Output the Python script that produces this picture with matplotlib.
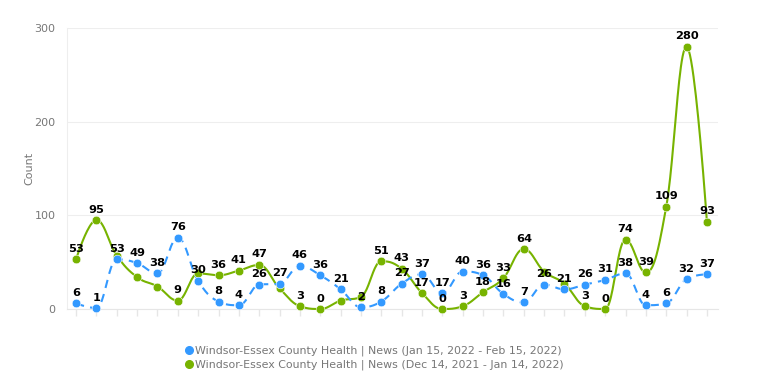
import numpy as np
import matplotlib
matplotlib.use("Agg")
import matplotlib.pyplot as plt
from matplotlib.lines import Line2D
from matplotlib.transforms import Bbox

# ---- data ----
series_names = [
    "Windsor-Essex County Health | News (Jan 15, 2022 - Feb 15, 2022)",
    "Windsor-Essex County Health | News (Dec 14, 2021 - Jan 14, 2022)",
]
blue_values = [6, 1, 53, 49, 38, 76, 30, 8, 4, 26, 27, 46, 36, 21, 2, 8,
               27, 37, 17, 40, 36, 16, 7, 26, 21, 26, 31, 38, 4, 6, 32, 37]
green_values = [53, 95, 57, 34, 24, 9, 38, 36, 41, 47, 22, 3, 0, 9, 13, 51,
                43, 17, 0, 3, 18, 33, 64, 40, 27, 3, 0, 74, 39, 109, 280, 93]
y_ticks = [0, 100, 200, 300]
y_title = "Count"

BLUE = "#3399ff"
GREEN = "#77b300"


def spline_curve(xs, ys, smoothing=1.5, n=24):
    """Highcharts-style spline through points, sampled as polyline."""
    xs = np.asarray(xs, float)
    ys = np.asarray(ys, float)
    m = len(xs)
    lc = [(xs[i], ys[i]) for i in range(m)]
    rc = [(xs[i], ys[i]) for i in range(m)]
    denom = smoothing + 1
    for i in range(1, m - 1):
        px, py = xs[i], ys[i]
        lx, ly = xs[i - 1], ys[i - 1]
        nx, ny = xs[i + 1], ys[i + 1]
        lcx = (smoothing * px + lx) / denom
        lcy = (smoothing * py + ly) / denom
        rcx = (smoothing * px + nx) / denom
        rcy = (smoothing * py + ny) / denom
        corr = 0.0
        if rcx != lcx:
            corr = ((rcy - lcy) * (rcx - px)) / (rcx - lcx) + py - rcy
        lcy += corr
        rcy += corr
        if lcy > ly and lcy > py:
            lcy = max(ly, py)
            rcy = 2 * py - lcy
        elif lcy < ly and lcy < py:
            lcy = min(ly, py)
            rcy = 2 * py - lcy
        if rcy > ny and rcy > py:
            rcy = max(ny, py)
            lcy = 2 * py - rcy
        elif rcy < ny and rcy < py:
            rcy = min(ny, py)
            lcy = 2 * py - rcy
        lc[i] = (lcx, lcy)
        rc[i] = (rcx, rcy)
    t = np.linspace(0, 1, n)[:, None]
    out = []
    for i in range(1, m):
        p0 = np.array([xs[i - 1], ys[i - 1]])
        p1 = np.array(rc[i - 1])
        p2 = np.array(lc[i])
        p3 = np.array([xs[i], ys[i]])
        seg = ((1 - t) ** 3) * p0 + 3 * ((1 - t) ** 2) * t * p1 + \
            3 * (1 - t) * t ** 2 * p2 + t ** 3 * p3
        out.append(seg if i == 1 else seg[1:])
    pts = np.vstack(out)
    return pts[:, 0], pts[:, 1]


W, H = 770, 386
fig = plt.figure(figsize=(W / 100, H / 100), dpi=100)
ax = fig.add_axes([66.5 / W, 1 - 309 / H, (717.5 - 66.5) / W, (309 - 28) / H])

x = np.arange(len(blue_values))

# lines
gx, gy = spline_curve(x, green_values)
ax.plot(gx, gy, color=GREEN, lw=1.5, solid_capstyle="round", zorder=3, clip_on=False)
bx, by = spline_curve(x, blue_values)
ax.plot(bx, by, color=BLUE, lw=1.5, dashes=(4, 3), zorder=4, clip_on=False)

# markers
ax.plot(x, green_values, "o", color=GREEN, ms=6.2, mec="white", mew=0.4, zorder=5, clip_on=False)
ax.plot(x, blue_values, "o", color=BLUE, ms=6.2, mec="white", mew=0.4, zorder=6, clip_on=False)

ax.set_xlim(-0.47, len(x) - 0.48)
ax.set_ylim(0, 300)
ax.set_yticks(y_ticks)
ax.set_xticks(x)
ax.set_xticklabels([])
ax.tick_params(axis="x", length=5, color="#e6e6e6", width=1)
ax.tick_params(axis="y", length=0, pad=8, labelsize=8, labelcolor="#777777")
ax.grid(axis="y", color="#eeeeee", lw=0.8, zorder=0)
ax.set_axisbelow(True)
for s in ["top", "right"]:
    ax.spines[s].set_visible(False)
ax.spines["left"].set_color("#eeeeee")
ax.spines["left"].set_linewidth(0.8)
ax.spines["bottom"].set_color("#e6e6e6")
ax.spines["bottom"].set_linewidth(0.8)
ax.set_ylabel(y_title, fontsize=8, color="#777777")
ax.yaxis.set_label_coords(-(66.5 - 34) / (717.5 - 66.5), 0.5)

# data labels (blue first; later labels hidden if they overlap shown ones)
labels = []
for vals in (blue_values, green_values):
    for xi, v in zip(x, vals):
        t = ax.annotate(str(v), (xi, v), xytext=(0, 7.5), textcoords="offset pixels",
                        ha="center", va="baseline", fontsize=8.2, fontweight="bold",
                        color="black", zorder=10, annotation_clip=False)
        labels.append((xi, v, t))

fig.canvas.draw()
renderer = fig.canvas.get_renderer()
shown = []
for xi, v, t in labels:
    ext = t.get_window_extent(renderer)
    px, py = ax.transData.transform((xi, v))
    base = py + 7.5
    bb = Bbox.from_extents(ext.x0 - 1, base - 3.0, ext.x1 + 1, base + 11.5)
    if any(bb.overlaps(o) for o in shown):
        t.set_visible(False)
    else:
        shown.append(bb)

# legend
handles = [Line2D([], [], marker="o", ls="none", color=c, ms=5.5) for c in (BLUE, GREEN)]
leg = fig.legend(handles, series_names, loc="center", bbox_to_anchor=(375 / W, 1 - 358 / H),
                 frameon=False, fontsize=7.9, labelcolor="#777777", handlelength=0.5,
                 handletextpad=0.25, labelspacing=0.32, borderpad=0)

fig.savefig("out.png", dpi=100)
